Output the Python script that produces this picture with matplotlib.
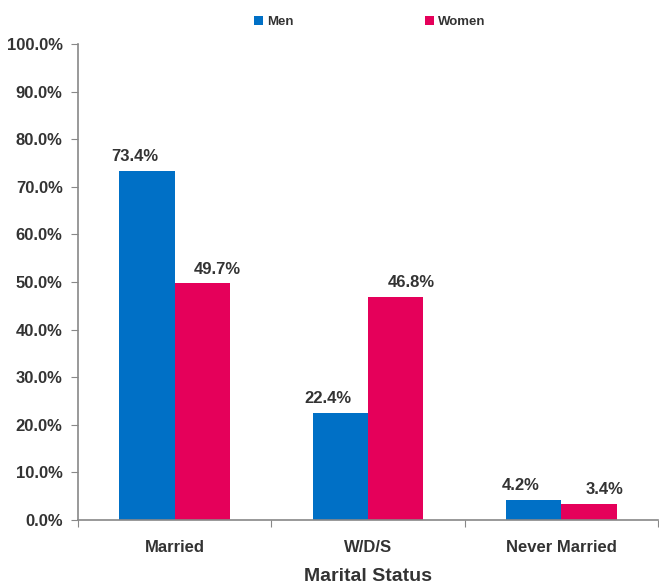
import matplotlib.pyplot as plt
import numpy as np

# Data
categories = ["Married", "W/D/S", "Never Married"]
men = [73.4, 22.4, 4.2]
women = [49.7, 46.8, 3.4]
y_ticks = [0, 10, 20, 30, 40, 50, 60, 70, 80, 90, 100]

plt.rcParams['font.family'] = ['Liberation Sans Narrow', 'Liberation Sans', 'DejaVu Sans']
plt.rcParams['font.weight'] = 'bold'
text_color = "#333333"
axis_color = "#888888"

fig = plt.figure(figsize=(6.59, 5.85), dpi=100)
ax = fig.add_axes([0.1184, 0.111, 0.880, 0.8138])

x = np.arange(len(categories))
width = 0.286
b1 = ax.bar(x - width / 2, men, width, color="#0070C6", label="Men")
b2 = ax.bar(x + width / 2, women, width, color="#E5005A", label="Women")

# value labels sit a little off-centre, as in the original
for bars, dx in ((b1, -9), (b2, 11)):
    for rect, v in zip(bars, bars.datavalues):
        ax.annotate(f"{v:.1f}%", (rect.get_x() + rect.get_width() / 2, v),
                    xytext=(dx, 5), textcoords="offset points",
                    ha="center", va="bottom", fontsize=12, fontweight="bold",
                    color=text_color)

ax.set_xlim(-0.5, len(categories) - 0.5)
ax.set_ylim(0, 100)
ax.set_yticks(y_ticks)
ax.set_yticklabels([f"{v:.1f}%" for v in y_ticks])

# category labels between boundary ticks
ax.set_xticks(np.arange(len(categories) + 1) - 0.5)
ax.set_xticklabels([])
ax.set_xticks(x, minor=True)
ax.set_xticklabels(categories, minor=True)
ax.tick_params(axis="x", which="minor", length=0, pad=14, labelsize=12, labelcolor=text_color)
ax.tick_params(axis="x", which="major", length=5, color=axis_color)
ax.tick_params(axis="y", length=5, color=axis_color, labelsize=12, labelcolor=text_color, pad=6)

for side in ("top", "right"):
    ax.spines[side].set_visible(False)
for side in ("left", "bottom"):
    ax.spines[side].set_color(axis_color)
    ax.spines[side].set_linewidth(1.2)

ax.set_xlabel("Marital Status", fontsize=14, fontweight="bold", color=text_color, labelpad=10)

fig.legend(loc="center", bbox_to_anchor=(0.561, 0.963), ncol=2, frameon=False,
           fontsize=9.5, handlelength=0.7, handleheight=0.7, handletextpad=0.3,
           columnspacing=10.0, labelcolor=text_color)

fig.savefig("out.png", dpi=100)
